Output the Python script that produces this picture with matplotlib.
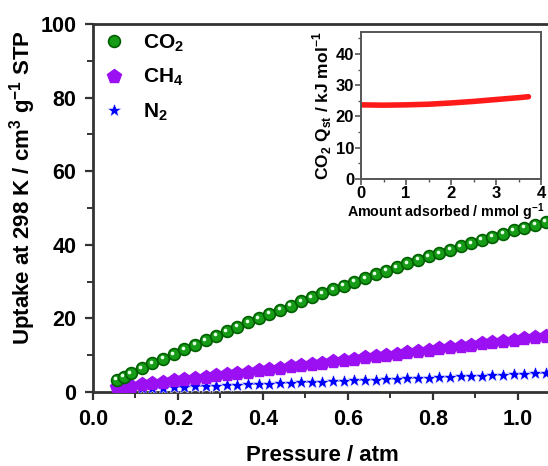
import numpy as np
import matplotlib
matplotlib.use('Agg')
import matplotlib.pyplot as plt
from matplotlib.transforms import ScaledTranslation
from matplotlib.ticker import MultipleLocator

plt.rcParams['font.family'] = ['Liberation Sans', 'DejaVu Sans']
plt.rcParams['font.weight'] = 'bold'
plt.rcParams['mathtext.fontset'] = 'custom'
plt.rcParams['mathtext.rm'] = 'Liberation Sans:bold'
plt.rcParams['mathtext.bf'] = 'Liberation Sans:bold'
plt.rcParams['axes.unicode_minus'] = False

# 压力点 (atm)
pressure = [0.056, 0.072, 0.089, 0.115, 0.14, 0.165, 0.19, 0.215, 0.24, 0.265,
            0.29, 0.315, 0.34, 0.365, 0.39, 0.415, 0.44, 0.465, 0.49, 0.515,
            0.54, 0.565, 0.59, 0.615, 0.64, 0.665, 0.69, 0.715, 0.74, 0.765,
            0.79, 0.815, 0.84, 0.865, 0.89, 0.915, 0.94, 0.965, 0.99, 1.015,
            1.04, 1.065]

co2 = [3.3, 4.16, 5.07, 6.45, 7.76, 9.05, 10.34, 11.61, 12.86, 14.09,
       15.33, 16.54, 17.73, 18.91, 20.09, 21.24, 22.38, 23.50, 24.62, 25.72,
       26.80, 27.86, 28.93, 29.96, 30.99, 32.00, 33.01, 33.99, 34.96, 35.91,
       36.86, 37.78, 38.70, 39.59, 40.49, 41.35, 42.21, 43.05, 43.89, 44.70,
       45.50, 46.28]

ch4 = [1.28, 1.50, 1.74, 2.10, 2.45, 2.79, 3.14, 3.49, 3.84, 4.18,
       4.53, 4.88, 5.23, 5.57, 5.92, 6.27, 6.62, 6.96, 7.31, 7.66,
       8.01, 8.35, 8.70, 9.05, 9.40, 9.74, 10.09, 10.44, 10.79, 11.13,
       11.48, 11.83, 12.18, 12.52, 12.87, 13.22, 13.57, 13.91, 14.26, 14.61,
       14.96, 15.30]

n2 = [0.70, 0.77, 0.84, 0.96, 1.07, 1.18, 1.29, 1.40, 1.51, 1.62,
      1.73, 1.84, 1.95, 2.06, 2.17, 2.28, 2.39, 2.50, 2.61, 2.72,
      2.83, 2.94, 3.05, 3.16, 3.27, 3.38, 3.49, 3.60, 3.71, 3.82,
      3.93, 4.04, 4.15, 4.26, 4.37, 4.48, 4.59, 4.70, 4.81, 4.92,
      5.03, 5.14]

# 吸附热 (inset)
amount = [0.0, 0.25, 0.5, 0.75, 1.0, 1.25, 1.5, 1.75, 2.0, 2.25, 2.5, 2.75,
          3.0, 3.25, 3.5, 3.72]
qst = [23.7, 23.65, 23.6, 23.65, 23.7, 23.8, 23.9, 24.1, 24.3, 24.55, 24.8,
       25.1, 25.4, 25.7, 26.0, 26.3]

spine_c = '#333333'

fig = plt.figure(figsize=(5.48, 4.66), dpi=100)
ax = fig.add_axes([0.1697, 0.1588, 0.8376, 0.7897])

ax.plot(pressure, n2, '-', color='#0000ff', lw=0.8, zorder=2)
ax.plot(pressure, n2, '*', ms=10, mfc='#0000ff', mec='white', mew=0.4,
        ls='none', zorder=3, label=r'N$_\mathbf{2}$')
ax.plot(pressure, ch4, 'p', ms=10, mfc='#9a10f2', mec='#9a10f2', ls='none',
        zorder=3, label=r'CH$_\mathbf{4}$')
ax.plot(pressure, co2, 'o', ms=8.5, mfc='#169c16', mec='#006000', mew=1.2,
        ls='none', zorder=4, label=r'CO$_\mathbf{2}$')
# 高光
hl = ax.transData + ScaledTranslation(-1.0 / 72, 1.0 / 72, fig.dpi_scale_trans)
ax.plot(pressure, co2, 'o', ms=2.6, mfc='#e8ffe8', mec='none', ls='none',
        transform=hl, zorder=5)

ax.set_xlim(0, 1.08)
ax.set_ylim(0, 100)
ax.xaxis.set_major_locator(MultipleLocator(0.2))
ax.xaxis.set_minor_locator(MultipleLocator(0.1))
ax.yaxis.set_major_locator(MultipleLocator(20))
ax.yaxis.set_minor_locator(MultipleLocator(10))
ax.xaxis.set_major_formatter(plt.FormatStrFormatter('%.1f'))
for s in ['left', 'bottom', 'top']:
    ax.spines[s].set_color(spine_c)
    ax.spines[s].set_linewidth(2)
ax.spines['right'].set_visible(False)
ax.tick_params(which='major', direction='out', length=6, width=1.6,
               color=spine_c, labelsize=15.5, pad=6)
ax.tick_params(which='minor', direction='out', length=4, width=1.4,
               color=spine_c)
ax.tick_params(top=False, right=False, which='both')
ax.set_xlabel('Pressure / atm', fontsize=16, fontweight='bold', labelpad=11)
ax.set_ylabel(r'Uptake at 298 K / cm$^\mathbf{3}$ g$^\mathbf{-1}$ STP',
              fontsize=16, fontweight='bold')
ax.yaxis.set_label_coords(-0.12, 0.555)

h, l = ax.get_legend_handles_labels()
order = [2, 1, 0]
ax.legend([h[i] for i in order], [l[i] for i in order], loc='upper left',
          frameon=False, fontsize=15, numpoints=1, handlelength=1.0,
          handletextpad=0.9, labelspacing=0.62, borderaxespad=0.0,
          bbox_to_anchor=(0.005, 1.0))

# inset
ins = fig.add_axes([0.6588, 0.6159, 0.3285, 0.3155])
ins.plot(amount, qst, '-', color='#ff1a1a', lw=4, solid_capstyle='round')
ins.set_xlim(0, 4)
ins.set_ylim(0, 47)
ins.xaxis.set_major_locator(MultipleLocator(1))
ins.xaxis.set_minor_locator(MultipleLocator(0.5))
ins.yaxis.set_major_locator(MultipleLocator(10))
ins.yaxis.set_minor_locator(MultipleLocator(5))
for s in ins.spines.values():
    s.set_color('#555555')
    s.set_linewidth(1.4)
ins.tick_params(which='major', direction='out', length=4, width=1.2,
                color='#555555', labelsize=12, pad=1)
ins.tick_params(which='minor', direction='out', length=2.5, width=1.0,
                color='#555555')
ins.set_xlabel(r'Amount adsorbed / mmol g$^\mathbf{-1}$', fontsize=10.3,
               fontweight='bold', labelpad=0)
ins.xaxis.set_label_coords(0.47, -0.155)
ins.set_ylabel(r'CO$_\mathbf{2}$ Q$_\mathbf{st}$ / kJ mol$^\mathbf{-1}$',
               fontsize=12.5, fontweight='bold', labelpad=1)

fig.savefig('out.png', dpi=100)
